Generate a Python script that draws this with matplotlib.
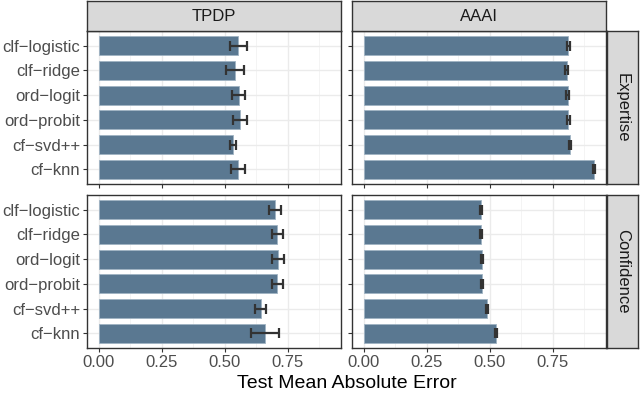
import numpy as np
import matplotlib
matplotlib.use("Agg")
import matplotlib.pyplot as plt
from matplotlib.patches import Rectangle

plt.rcParams['font.family'] = ['Liberation Sans', 'DejaVu Sans']

methods = ["clf-logistic", "clf-ridge", "ord-logit", "ord-probit", "cf-svd++", "cf-knn"]
datasets = ["TPDP", "AAAI"]
tasks = ["Expertise", "Confidence"]

# mean absolute error and half-width of the error bar
tpdp_expertise = [0.554, 0.541, 0.556, 0.562, 0.532, 0.553]
tpdp_expertise_err = [0.034, 0.035, 0.025, 0.027, 0.012, 0.028]
aaai_expertise = [0.812, 0.806, 0.810, 0.812, 0.820, 0.915]
aaai_expertise_err = [0.006, 0.006, 0.006, 0.006, 0.003, 0.003]
tpdp_confidence = [0.700, 0.709, 0.713, 0.710, 0.643, 0.660]
tpdp_confidence_err = [0.023, 0.021, 0.023, 0.020, 0.021, 0.056]
aaai_confidence = [0.466, 0.466, 0.468, 0.468, 0.489, 0.525]
aaai_confidence_err = [0.004, 0.004, 0.004, 0.004, 0.003, 0.003]

values = {
    ("Expertise", "TPDP"): (tpdp_expertise, tpdp_expertise_err),
    ("Expertise", "AAAI"): (aaai_expertise, aaai_expertise_err),
    ("Confidence", "TPDP"): (tpdp_confidence, tpdp_confidence_err),
    ("Confidence", "AAAI"): (aaai_confidence, aaai_confidence_err),
}

W, H = 640, 394
fig = plt.figure(figsize=(W / 100, H / 100), dpi=100)


def px_rect(x0, y0, x1, y1):
    return [x0 / W, 1 - y1 / H, (x1 - x0) / W, (y1 - y0) / H]


col_x = [(87, 341), (352, 606)]
row_y = [(31, 184), (195, 348)]
bar_col = "#5a7891"
grey20 = "#333333"
grey30 = "#4d4d4d"
ticks = [0, 0.25, 0.5, 0.75]
# R draws the hyphens as minus signs
labels = [m.replace("-", "\u2212") for m in methods]

for r, task in enumerate(tasks):
    for c, ds in enumerate(datasets):
        x0, x1 = col_x[c]
        y0, y1 = row_y[r]
        ax = fig.add_axes(px_rect(x0, y0, x1, y1))
        mean, err = values[(task, ds)]
        ypos = np.arange(len(methods))[::-1] + 1
        ax.set_xlim(-0.046, 0.962)
        ax.set_ylim(0.4, len(methods) + 0.6)
        for t in ticks:
            ax.axvline(t, color="#ebebeb", lw=1.0, zorder=0)
        for t in np.arange(0.125, 1.0, 0.25):
            ax.axvline(t, color="#f2f2f2", lw=0.6, zorder=0)
        for y in ypos:
            ax.axhline(y, color="#ebebeb", lw=1.0, zorder=0)
        ax.barh(ypos, mean, height=0.78, color=bar_col, edgecolor="#9fb3c3",
                linewidth=0.6, zorder=2)
        ax.errorbar(mean, ypos, xerr=err, fmt="none", ecolor=grey20,
                    elinewidth=1.6, capsize=3.4, capthick=1.6, zorder=3)
        for s in ax.spines.values():
            s.set_color(grey20)
            s.set_linewidth(1.0)
        ax.set_xticks(ticks)
        ax.set_yticks(ypos)
        ax.tick_params(length=3, width=0.8, color=grey20, labelcolor=grey30,
                       labelsize=12, pad=2)
        if c == 0:
            ax.set_yticklabels(labels)
        else:
            ax.set_yticklabels([])
        if r == 1:
            ax.set_xticklabels(["0.00", "0.25", "0.50", "0.75"])
        else:
            ax.set_xticklabels([])

        if r == 0:
            sax = fig.add_axes(px_rect(x0, 1, x1, 31))
            sax.add_patch(Rectangle((0, 0), 1, 1, transform=sax.transAxes,
                                    facecolor="#d9d9d9", edgecolor="none"))
            sax.set_xticks([])
            sax.set_yticks([])
            for s in sax.spines.values():
                s.set_color(grey20)
                s.set_linewidth(1.0)
            sax.text(0.5, 0.47, ds, ha="center", va="center", fontsize=12,
                     color="#1a1a1a", transform=sax.transAxes)
        if c == 1:
            sax = fig.add_axes(px_rect(607, y0, 638, y1))
            sax.add_patch(Rectangle((0, 0), 1, 1, transform=sax.transAxes,
                                    facecolor="#d9d9d9", edgecolor="none"))
            sax.set_xticks([])
            sax.set_yticks([])
            for s in sax.spines.values():
                s.set_color(grey20)
                s.set_linewidth(1.0)
            sax.text(0.5, 0.5, task, ha="center", va="center", fontsize=12,
                     color="#1a1a1a", rotation=-90, transform=sax.transAxes)

fig.text((87 + 606) / 2 / W, 1 - 383 / H, "Test Mean Absolute Error",
         ha="center", va="center", fontsize=14, color="black")

fig.savefig("out.png", dpi=100)
